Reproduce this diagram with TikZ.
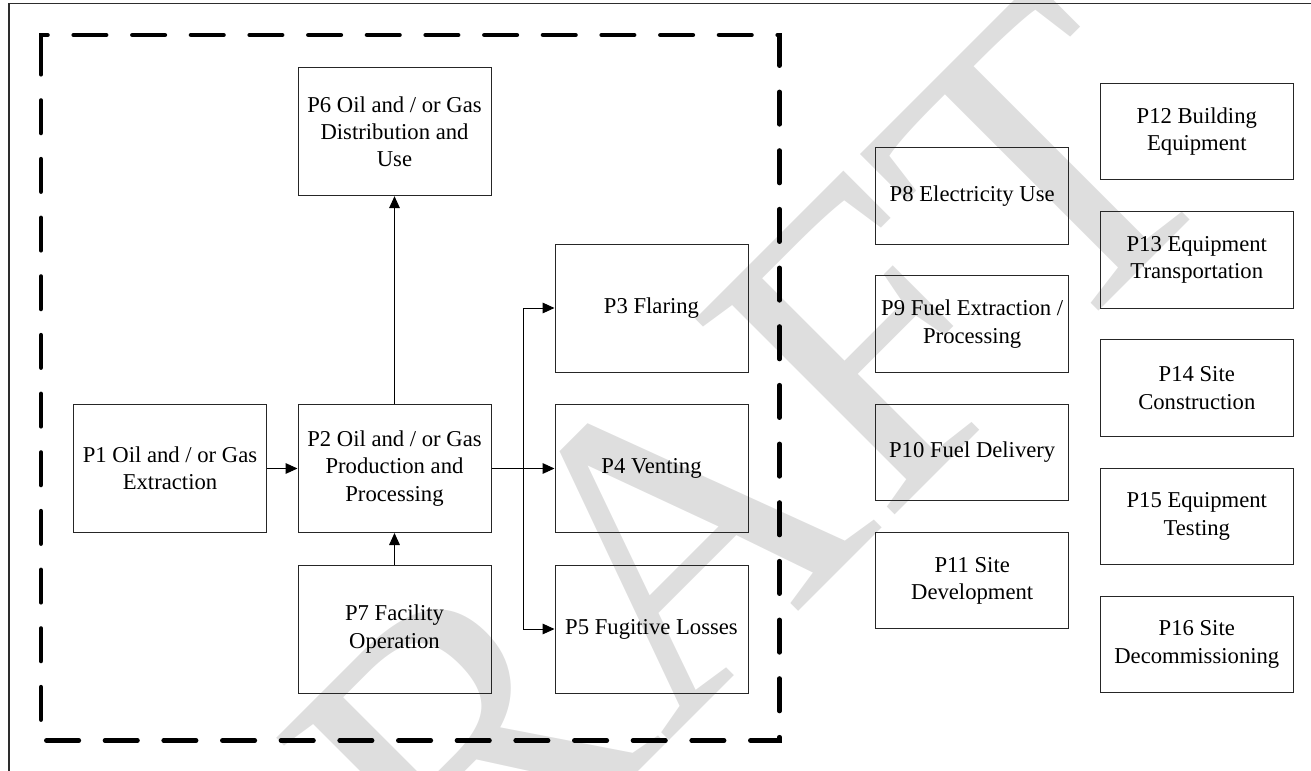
\documentclass[tikz,border=0pt]{standalone}
\usepackage{fontspec}
\setmainfont{Liberation Serif}
\usetikzlibrary{arrows.meta}
\definecolor{wm}{RGB}{222,222,222}
\definecolor{frame}{RGB}{45,45,45}
\begin{document}
\begin{tikzpicture}[x=0.75pt,y=-0.75pt,
  box/.style={draw=black!85, line width=0.75pt, minimum width=144.75pt, minimum height=96pt,
              inner sep=0pt, align=center, font=\fontsize{17}{20.5}\selectfont},
  sbox/.style={box, minimum height=72.4pt},
  arr/.style={line width=0.75pt, -{Triangle[length=9pt,width=8pt]}},
  dashedframe/.style={line width=3.4pt, dash pattern=on 24.4pt off 19.6pt, line cap=round},
]
\useasboundingbox (0,0) rectangle (1311,771);
% watermark
\node[rotate=45, anchor=base, text=wm, inner sep=0pt,
      font=\fontsize{320}{320}\selectfont] (wmark) at (742,668) {DRAFT};
% outer frame lines
\coordinate (fa) at (9,771);
\coordinate (fb) at (9,3.5);
\coordinate (fc) at (1311,3.5);
\draw[frame, line width=1pt] (fa) -- (fb) -- (fc);
% dashed boundary
\coordinate (d0) at (41,61);
\coordinate (d1) at (41,35);
\coordinate (d2) at (779.5,35);
\coordinate (d3) at (779.5,740.5);
\coordinate (d4) at (41,740.5);
\draw[dashedframe] (d0) -- (d1) -- (d2) -- (d3) -- (d4) -- cycle;
% main boxes
\node[box] (p6) at (394.5,131.7) {P6 Oil and / or Gas\\Distribution and\\Use};
\node[box] (p1) at (170,468.5) {P1 Oil and / or Gas\\Extraction};
\node[box] (p2) at (394.5,468.5) {P2 Oil and / or Gas\\Production and\\Processing};
\node[box] (p7) at (394.5,629) {P7 Facility\\Operation};
\node[box] (p3) at (651.5,308) {P3 Flaring};
\node[box] (p4) at (651.5,468.5) {P4 Venting};
\node[box] (p5) at (651.5,629) {P5 Fugitive Losses};
% right boxes
\node[sbox] (p8) at (972.2,196) {P8 Electricity Use};
\node[sbox] (p9) at (972.2,324.2) {P9 Fuel Extraction /\\Processing};
\node[sbox] (p10) at (972.2,452.4) {P10 Fuel Delivery};
\node[sbox] (p11) at (972.2,580.6) {P11 Site\\Development};
\node[sbox] (p12) at (1196.8,131.5) {P12 Building\\Equipment};
\node[sbox] (p13) at (1196.8,259.8) {P13 Equipment\\Transportation};
\node[sbox] (p14) at (1196.8,388) {P14 Site\\Construction};
\node[sbox] (p15) at (1196.8,516.3) {P15 Equipment\\Testing};
\node[sbox] (p16) at (1196.8,644.6) {P16 Site\\Decommissioning};
% connectors
\draw[arr] (p1) -- (p2);
\draw[arr] (p7) -- (p2);
\draw[arr] (p2) -- (p6);
\draw[arr] (p2) -- (p4);
\coordinate (br) at (523,468.5);
\draw[arr] (br) |- (p3.west);
\draw[arr] (br) |- (p5.west);
\end{tikzpicture}
\end{document}
